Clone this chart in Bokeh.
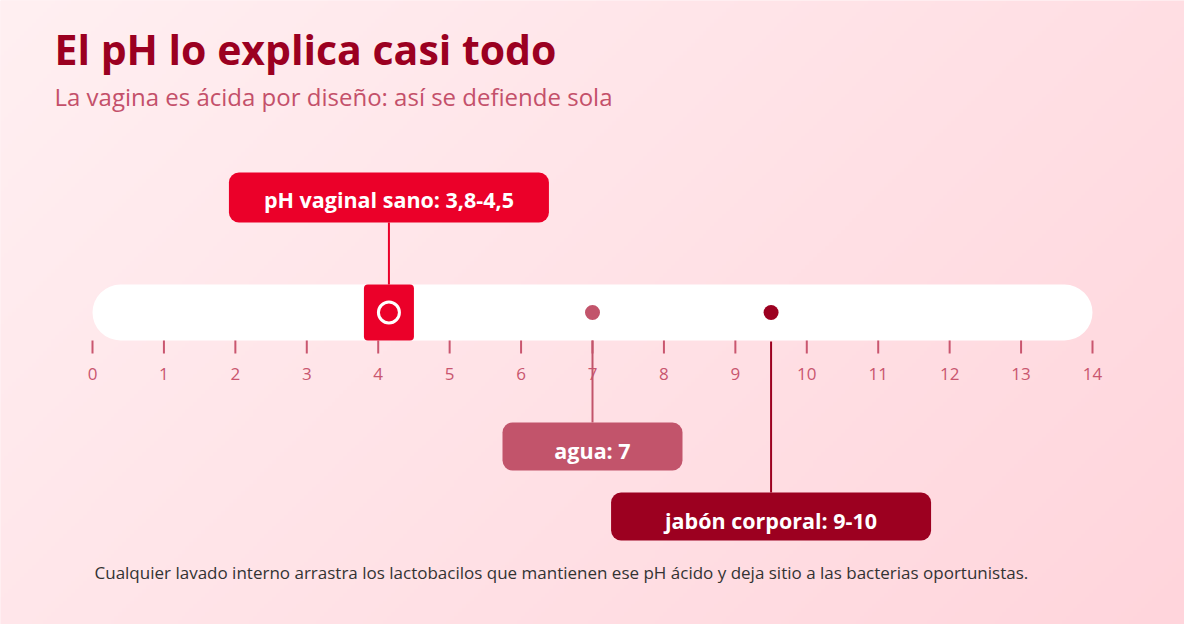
import numpy as np
from bokeh.plotting import figure
from bokeh.models import Range1d
from bokeh.core.properties import value
from bokeh.embed import file_html
from bokeh.resources import INLINE

# texts
title = "El pH lo explica casi todo"
subtitle = "La vagina es ácida por diseño: así se defiende sola"
note = ("Cualquier lavado interno arrastra los lactobacilos que mantienen ese pH "
        "ácido y deja sitio a las bacterias oportunistas.")

# pH scale and the three readings
ph_ticks = list(range(0, 15))
ph_min, ph_max = 0, 14
healthy_range = (3.8, 4.5)
water_ph = 7
soap_range = (9, 10)
labels = ["pH vaginal sano: 3,8-4,5", "agua: 7", "jabón corporal: 9-10"]

FONT = value("Open Sans")
RED = "#eb0029"
ROSE = "#c2546b"
WINE = "#9c0020"
TICK = "#c9566f"

# layout: pH 0 sits at x=100px, pH 14 at x=1100px; y counted in px from the bottom
PX = 1000 / (ph_max - ph_min)
W, H = 1184, 624


def px(sx):
    return ph_min + (sx - 100) / PX


def py(sy):
    return 640 - sy


p = figure(width=W, height=H, output_backend="svg", toolbar_location=None,
           x_range=Range1d(px(8), px(8 + W)), y_range=Range1d(py(8 + H), py(8)),
           x_axis_location=None, y_axis_location=None, min_border=0)
p.grid.visible = False
p.outline_line_color = None
p.background_fill_color = "#ffe6ea"
p.border_fill_color = "#ffe6ea"

# diagonal background gradient
nr, nc = 160, 300
cols = np.linspace(8, 8 + W, nc)
rows = np.linspace(8 + H, 8, nr)  # row 0 is the bottom
gx, gy = np.meshgrid(cols, rows)
t = np.clip(0.5 + ((gx - 600) + (gy - 320)) / 1840, 0, 1)
c0 = np.array([255, 240, 242])
c1 = np.array([255, 213, 220])
img = np.zeros((nr, nc), dtype=np.uint32)
view = img.view(dtype=np.uint8).reshape((nr, nc, 4))
for k in range(3):
    view[:, :, k] = (c0[k] + (c1[k] - c0[k]) * t).astype(np.uint8)
view[:, :, 3] = 255
p.image_rgba(image=[img], x=px(8), y=py(8 + H), dw=W / PX, dh=H)

# titles
p.text(x=[px(62)], y=[py(56)], text=[title], text_font=FONT, text_font_style="bold",
       text_font_size="41px", text_color="#9b0021", text_baseline="middle")
p.text(x=[px(62)], y=[py(104)], text=[subtitle], text_font=FONT,
       text_font_size="24px", text_color="#c4506a", text_baseline="middle")

# scale bar
p.quad(left=[ph_min], right=[ph_max], top=[py(292)], bottom=[py(348)],
       fill_color="white", line_color=None, border_radius=28)

# ticks
p.segment(x0=ph_ticks, y0=[py(348)] * len(ph_ticks), x1=ph_ticks, y1=[py(361)] * len(ph_ticks),
          line_color=TICK, line_width=2)
p.text(x=ph_ticks, y=[py(381)] * len(ph_ticks), text=[str(v) for v in ph_ticks],
       text_font=FONT, text_font_size="17px", text_color=TICK,
       text_align="center", text_baseline="middle")

healthy_mid = sum(healthy_range) / 2
soap_mid = sum(soap_range) / 2

# connectors
p.segment(x0=[healthy_mid], y0=[py(230)], x1=[healthy_mid], y1=[py(292)], line_color=RED, line_width=2)
p.segment(x0=[water_ph], y0=[py(348)], x1=[water_ph], y1=[py(430)], line_color=ROSE, line_width=2)
p.segment(x0=[soap_mid], y0=[py(349)], x1=[soap_mid], y1=[py(500)], line_color=WINE, line_width=2)

# healthy range block
p.quad(left=[healthy_range[0]], right=[healthy_range[1]], top=[py(292)], bottom=[py(348)],
       fill_color=RED, line_color=None, border_radius=4)
p.scatter(x=[healthy_mid], y=[py(320)], size=21, fill_color=None, line_color="white", line_width=3)

# water and soap dots
p.scatter(x=[water_ph], y=[py(320)], size=15, fill_color=ROSE, line_color=None)
p.scatter(x=[soap_mid], y=[py(320)], size=15, fill_color=WINE, line_color=None)

# callout boxes
centers = [healthy_mid, water_ph, soap_mid]
half_w = [160 / PX, 90 / PX, 160 / PX]
tops = [180, 430, 500]
bottoms = [230, 478, 548]
mids = [207, 458, 528]
colors = [RED, ROSE, WINE]
p.quad(left=[c - h for c, h in zip(centers, half_w)], right=[c + h for c, h in zip(centers, half_w)],
       top=[py(v) for v in tops], bottom=[py(v) for v in bottoms],
       fill_color=colors, line_color=None, border_radius=10)
p.text(x=centers, y=[py(v) for v in mids], text=labels, text_font=FONT,
       text_font_style="bold", text_font_size="21.5px", text_color="white",
       text_align="center", text_baseline="middle")

# footnote
p.text(x=[px(102)], y=[py(580)], text=[note], text_font=FONT, text_font_size="17px",
       text_color="#333333", text_baseline="middle")

open("out.html", "w").write(file_html(p, INLINE))
